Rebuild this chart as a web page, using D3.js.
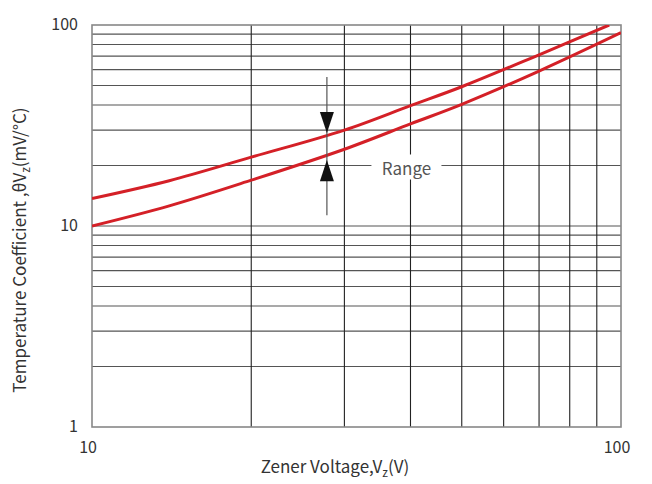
<!DOCTYPE html>
<html>
<head>
<meta charset="utf-8">
<script src="https://cdn.jsdelivr.net/npm/d3@7"></script>
<style>
	body { margin: 0; background: #fff; }
	text { font-family: "Noto Sans CJK SC", "Noto Sans", sans-serif; fill: #333; }
</style>
</head>
<body>
<div id="chart-area"></div>
<script>

// Curve data (V in volts, coefficient in mV/°C)
let voltsUpper = [10, 14, 20, 30, 40, 50, 70, 95];
let coefUpper  = [13.7, 16.8, 22.0, 30.0, 39.7, 49.3, 71.1, 100];

let voltsLower = [10, 14, 20, 30, 40, 50, 70, 100];
let coefLower  = [10.0, 12.6, 16.9, 24.1, 32.2, 40.3, 59.0, 91.6];

// Axis ticks
let xTicks = [10, 100];
let yTicks = [1, 10, 100];
let xGrid = [20, 30, 40, 50, 60, 70, 80, 90];
let yGrid = [2, 3, 4, 5, 6, 7, 8, 9, 20, 30, 40, 50, 60, 70, 80, 90];

// "Range" marker
let rangeVolt = 27.8;
let rangeLine = [11.3, 55.1];
let arrowDown = [36.9, 29.0];
let arrowUp = [16.7, 21.3];
let rangeLabel = {volt: 39.3, coef: 20};

let margin = {top: 25, right: 31, bottom: 57, left: 92};
let width = 652 - margin.left - margin.right,
	height = 484 - margin.top - margin.bottom;

let svg = d3.select("#chart-area").append("svg")
	.attr("width", 652)
	.attr("height", 484)
	.append("g")
	.attr("transform", "translate(" + margin.left + "," + margin.top + ")");

let x = d3.scaleLog().domain([10, 100]).range([0, width]);
let y = d3.scaleLog().domain([1, 100]).range([height, 0]);

// grid
svg.selectAll(".hgrid")
	.data(yGrid.concat([10]))
	.enter().append("line")
	.attr("x1", 0).attr("x2", width)
	.attr("y1", d => y(d)).attr("y2", d => y(d))
	.attr("stroke", "#555")
	.attr("stroke-width", 1.2);

svg.selectAll(".vgrid")
	.data(xGrid)
	.enter().append("line")
	.attr("x1", d => x(d)).attr("x2", d => x(d))
	.attr("y1", 0).attr("y2", height)
	.attr("stroke", "#222")
	.attr("stroke-width", 1.1);

// frame
svg.append("rect")
	.attr("width", width).attr("height", height)
	.attr("fill", "none")
	.attr("stroke", "#888")
	.attr("stroke-width", 1.6);

// white patch behind the label
let lx = x(rangeLabel.volt), ly = y(rangeLabel.coef);
svg.append("rect")
	.attr("x", lx - 35).attr("y", ly - 11)
	.attr("width", 70).attr("height", 25)
	.attr("fill", "#fff");

svg.append("text")
	.attr("x", lx).attr("y", ly + 10)
	.attr("text-anchor", "middle")
	.style("font-size", "17px")
	.style("fill", "#555")
	.text("Range");

// clip
svg.append("clipPath").attr("id", "plot-clip")
	.append("rect").attr("width", width).attr("height", height);

let line = d3.line()
	.x(d => x(d[0]))
	.y(d => y(d[1]))
	.curve(d3.curveCatmullRom.alpha(0.5));

[[voltsUpper, coefUpper], [voltsLower, coefLower]].forEach(s => {
	svg.append("path")
		.datum(s[0].map((v, i) => [v, s[1][i]]))
		.attr("clip-path", "url(#plot-clip)")
		.attr("fill", "none")
		.attr("stroke", "#d42027")
		.attr("stroke-width", 3)
		.attr("d", line);
});

// range arrows
let ax = x(rangeVolt);
svg.append("line")
	.attr("x1", ax).attr("x2", ax)
	.attr("y1", y(rangeLine[0])).attr("y2", y(rangeLine[1]))
	.attr("stroke", "#555")
	.attr("stroke-width", 1.2);

[arrowDown, arrowUp].forEach(a => {
	let b = y(a[0]), t = y(a[1]);
	svg.append("path")
		.attr("d", "M" + (ax - 7) + "," + b + "L" + (ax + 7) + "," + b + "L" + ax + "," + t + "Z")
		.attr("fill", "#111");
});

// tick labels
svg.selectAll(".ylab")
	.data(yTicks)
	.enter().append("text")
	.attr("x", -14)
	.attr("y", d => y(d) + 5)
	.attr("text-anchor", "end")
	.style("font-size", "16px")
	.text(d => d);

svg.selectAll(".xlab")
	.data(xTicks)
	.enter().append("text")
	.attr("x", d => x(d) - 4)
	.attr("y", height + 26)
	.attr("text-anchor", "middle")
	.style("font-size", "16px")
	.text(d => d);

// axis titles
let xt = svg.append("text")
	.attr("x", 243)
	.attr("y", height + 46)
	.attr("text-anchor", "middle")
	.style("font-size", "17px");
xt.append("tspan").text("Zener Voltage,V");
xt.append("tspan").attr("dy", 4).style("font-size", "12px").text("z");
xt.append("tspan").attr("dy", -4).text("(V)");

let yt = svg.append("text")
	.attr("transform", "translate(-66," + 225 + ") rotate(-90)")
	.attr("text-anchor", "middle")
	.style("font-size", "17px");
yt.append("tspan").text("Temperature Coefficient ,θV");
yt.append("tspan").attr("dy", 4).style("font-size", "12px").text("z");
yt.append("tspan").attr("dy", -4).text("(mV/°C)");

</script>
</body>
</html>
